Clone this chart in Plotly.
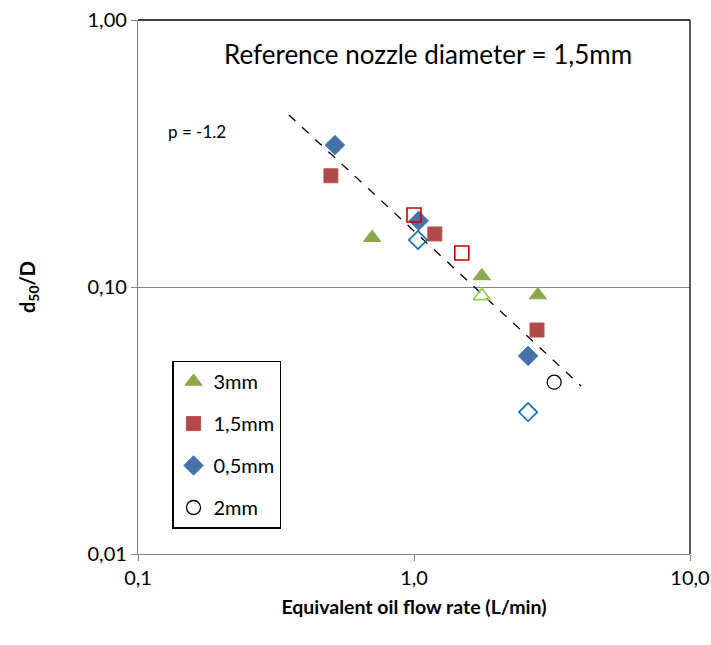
import plotly.graph_objects as go

# 3mm nozzle
x_3mm = [0.705, 1.76, 2.81]
y_3mm = [0.153, 0.110, 0.0933]
x_3mm_open = [1.76]
y_3mm_open = [0.0926]
# 1,5mm nozzle
x_15mm = [0.50, 1.19, 2.79]
y_15mm = [0.261, 0.158, 0.069]
x_15mm_open = [1.0, 1.49]
y_15mm_open = [0.186, 0.134]
# 0,5mm nozzle
x_05mm = [0.517, 1.04, 2.59]
y_05mm = [0.340, 0.177, 0.0552]
x_05mm_open = [1.034, 2.59]
y_05mm_open = [0.150, 0.034]
# 2mm nozzle
x_2mm = [3.22]
y_2mm = [0.044]
# trend line
fit_x = [0.352, 4.03]
fit_y = [0.441, 0.0426]

xtick_vals = [0.1, 1, 10]
xtick_text = ["0,1", "1,0", "10,0"]
ytick_vals = [0.01, 0.1, 1]
ytick_text = ["0,01", "0,10", "1,00"]

FONT = "Lato, 'Open Sans', sans-serif"

fig = go.Figure()
fig.add_trace(go.Scatter(x=fit_x, y=fit_y, mode="lines",
                         line=dict(color="black", width=1.3, dash="dash"),
                         showlegend=False, hoverinfo="skip"))
fig.add_trace(go.Scatter(x=x_3mm, y=y_3mm, mode="markers", name="3mm", legendgroup="a",
                         marker=dict(symbol="triangle-up", size=15, color="#8BA84B",
                                     line=dict(color="#8BA84B", width=1))))
fig.add_trace(go.Scatter(x=x_15mm, y=y_15mm, mode="markers", name="1,5mm", legendgroup="b",
                         marker=dict(symbol="square", size=14, color="#B04A47",
                                     line=dict(color="#C0504D", width=1))))
fig.add_trace(go.Scatter(x=x_05mm, y=y_05mm, mode="markers", name="0,5mm", legendgroup="c",
                         marker=dict(symbol="diamond", size=15, color="#4572A7",
                                     line=dict(color="#4A7EBB", width=1))))
fig.add_trace(go.Scatter(x=x_2mm, y=y_2mm, mode="markers", name="2mm", legendgroup="d",
                         marker=dict(symbol="circle-open", size=14, color="black",
                                     line=dict(color="black", width=1.3))))
fig.add_trace(go.Scatter(x=x_3mm_open, y=y_3mm_open, mode="markers", showlegend=False,
                         marker=dict(symbol="triangle-up-open", size=15, color="#92D050",
                                     line=dict(color="#92D050", width=1.6))))
fig.add_trace(go.Scatter(x=x_15mm_open, y=y_15mm_open, mode="markers", showlegend=False,
                         marker=dict(symbol="square-open", size=14, color="#CC0000",
                                     line=dict(color="#CC0000", width=1.6))))
fig.add_trace(go.Scatter(x=x_05mm_open, y=y_05mm_open, mode="markers", showlegend=False,
                         marker=dict(symbol="diamond-open", size=14, color="#0070C0",
                                     line=dict(color="#0070C0", width=1.6))))

fig.update_layout(
    width=711, height=645,
    margin=dict(l=138, r=21, t=20, b=91, autoexpand=False),
    paper_bgcolor="white", plot_bgcolor="white",
    font=dict(family=FONT, size=20, color="black"),
    showlegend=True,
    legend=dict(x=0.062, y=0.362, xanchor="left", yanchor="top",
                bordercolor="black", borderwidth=1.3, bgcolor="white",
                font=dict(size=20), tracegroupgap=13,
                itemwidth=30),
    xaxis=dict(type="log", range=[-1, 1], tickvals=xtick_vals, ticktext=xtick_text,
               automargin=False,
               showgrid=False, zeroline=False, showline=True, linecolor="#868686",
               linewidth=1.3, ticks="outside", ticklen=6, tickcolor="#868686",
               tickfont=dict(size=20),
               title=dict(text="<b>Equivalent oil flow rate (L/min)</b>", font=dict(size=19.5),
                          standoff=12)),
    yaxis=dict(type="log", range=[-2, 0], tickvals=ytick_vals, ticktext=ytick_text,
               automargin=False,
               showgrid=True, gridcolor="#868686", gridwidth=1.2, zeroline=False,
               showline=True, linecolor="#868686", linewidth=1.3,
               ticks="outside", ticklen=6, tickcolor="#868686",
               tickfont=dict(size=20),
               title=dict(text="<b>d<sub>50</sub>/D</b>", font=dict(size=20), standoff=46)),
    shapes=[
        dict(type="line", xref="paper", yref="paper", x0=0, x1=1, y0=1, y1=1,
             line=dict(color="black", width=1.3)),
        dict(type="line", xref="paper", yref="paper", x0=1, x1=1, y0=0, y1=1,
             line=dict(color="black", width=1.3)),
    ],
    annotations=[
        dict(text="Reference nozzle diameter = 1,5mm", xref="paper", yref="paper",
             x=0.525, y=0.936, xanchor="center", yanchor="middle",
             showarrow=False, font=dict(size=26)),
        dict(text="p = -1.2", xref="paper", yref="paper",
             x=0.107, y=0.792, xanchor="center", yanchor="middle",
             showarrow=False, font=dict(size=17)),
    ],
)

fig.write_html("out.html", config={"displayModeBar": False},
               post_script="document.body.style.margin='0';")
